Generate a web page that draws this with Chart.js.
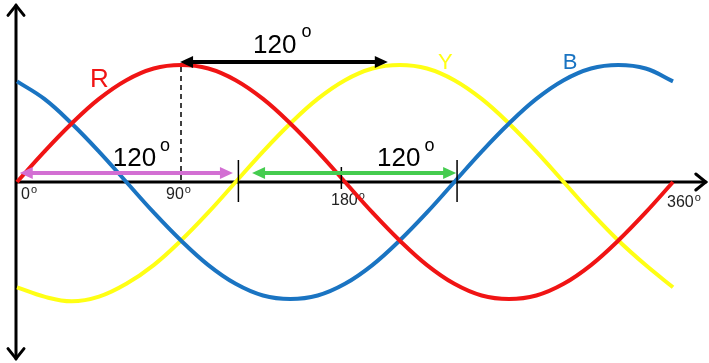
<!DOCTYPE html>
<html>
<head>
<meta charset="utf-8">
<script src="https://cdn.jsdelivr.net/npm/chart.js@4"></script>
<style>
  html, body { margin: 0; padding: 0; background: #fff; }
  #wrap { width: 709px; height: 363px; position: relative; }
</style>
</head>
<body>
<div id="wrap"><canvas id="phaseChart"></canvas></div>
<script>
// angle in degrees, one point every 15 deg
const degrees = [0, 15, 30, 45, 60, 75, 90, 105, 120, 135, 150, 165, 180, 195, 210, 225, 240, 255, 270, 285, 300, 315, 330, 345, 360];

// values (peak = 1)
const redPhase = [0, 0.26, 0.5, 0.71, 0.87, 0.97, 1, 0.97, 0.87, 0.71, 0.5, 0.26, 0, -0.26, -0.5, -0.71, -0.87, -0.97, -1, -0.97, -0.87, -0.71, -0.5, -0.26, 0];
const yellowPhase = [-0.9, -0.98, -1.02, -0.98, -0.87, -0.71, -0.5, -0.26, 0, 0.26, 0.5, 0.71, 0.87, 0.97, 1, 0.97, 0.87, 0.71, 0.5, 0.26, 0, -0.26, -0.5, -0.71, -0.9];
const bluePhase = [0.86, 0.71, 0.5, 0.26, 0, -0.26, -0.5, -0.71, -0.87, -0.97, -1, -0.97, -0.87, -0.71, -0.5, -0.26, 0, 0.26, 0.5, 0.71, 0.87, 0.97, 1, 0.97, 0.86];

const tickLabels = [
    { deg: 0, text: '0', dx: 4, dy: 17 },
    { deg: 90, text: '90', dx: -15, dy: 17 },
    { deg: 180, text: '180', dx: -14, dy: 23 },
    { deg: 360, text: '360', dx: -6, dy: 25 }
];

const RED = '#f01414';
const YELLOW = '#ffff14';
const BLUE = '#1a74c2';

function toPoints(vals) {
    return degrees.map((d, i) => ({ x: d, y: vals[i] }));
}

// degree text: number followed by a raised small "o"
function degText(ctx, text, x, y, size, oSize, rise, gap, color) {
    ctx.fillStyle = color || '#000';
    ctx.textAlign = 'left';
    ctx.textBaseline = 'alphabetic';
    ctx.font = size + 'px "Liberation Sans", Arial, sans-serif';
    ctx.fillText(text, x, y);
    const w = ctx.measureText(text).width;
    ctx.font = oSize + 'px "Liberation Sans", Arial, sans-serif';
    ctx.fillText('o', x + w + gap, y - rise);
}

function filledArrow(ctx, x1, x2, y, color) {
    const head = 13, half = 6;
    ctx.strokeStyle = color;
    ctx.fillStyle = color;
    ctx.lineWidth = 4;
    ctx.beginPath();
    ctx.moveTo(x1 + head - 2, y);
    ctx.lineTo(x2 - head + 2, y);
    ctx.stroke();
    ctx.beginPath();
    ctx.moveTo(x1, y); ctx.lineTo(x1 + head, y - half); ctx.lineTo(x1 + head, y + half); ctx.closePath();
    ctx.fill();
    ctx.beginPath();
    ctx.moveTo(x2, y); ctx.lineTo(x2 - head, y - half); ctx.lineTo(x2 - head, y + half); ctx.closePath();
    ctx.fill();
}

const axesPlugin = {
    id: 'phaseAxes',
    beforeDatasetsDraw(chart) {
        const ctx = chart.ctx;
        const xs = chart.scales.x, ys = chart.scales.y;
        const x0 = xs.getPixelForValue(0) - 1;
        const y0 = ys.getPixelForValue(0);
        const top = ys.getPixelForValue(1.51);
        const bottom = ys.getPixelForValue(-1.51);
        const right = xs.getPixelForValue(378);
        ctx.save();
        ctx.strokeStyle = '#000';
        ctx.lineWidth = 3;
        ctx.lineCap = 'round';
        ctx.lineJoin = 'miter';
        ctx.beginPath();
        ctx.moveTo(x0, top); ctx.lineTo(x0, bottom);
        ctx.moveTo(x0, y0); ctx.lineTo(right, y0);
        ctx.stroke();
        // chevron heads
        ctx.beginPath();
        ctx.moveTo(x0 - 8, top + 10); ctx.lineTo(x0, top); ctx.lineTo(x0 + 8, top + 10);
        ctx.moveTo(x0 - 8, bottom - 10); ctx.lineTo(x0, bottom); ctx.lineTo(x0 + 8, bottom - 10);
        ctx.moveTo(right - 10, y0 - 8); ctx.lineTo(right, y0); ctx.lineTo(right - 10, y0 + 8);
        ctx.stroke();

        // tick labels
        tickLabels.forEach(t => {
            degText(ctx, t.text, xs.getPixelForValue(t.deg) + t.dx, y0 + t.dy, 16, 11, 6, 1, '#222');
        });
        ctx.restore();
    },
    afterDatasetsDraw(chart) {
        const ctx = chart.ctx;
        const xs = chart.scales.x, ys = chart.scales.y;
        const px = d => xs.getPixelForValue(d);
        const py = v => ys.getPixelForValue(v);
        const y0 = py(0);
        ctx.save();

        // dashed drop line at the red peak
        ctx.strokeStyle = '#000';
        ctx.lineWidth = 1.5;
        ctx.setLineDash([5, 4]);
        ctx.beginPath();
        ctx.moveTo(px(90), py(1) + 2);
        ctx.lineTo(px(90), y0);
        ctx.stroke();
        ctx.setLineDash([]);

        // vertical markers at 120 and 240, small one at 180
        ctx.lineWidth = 1.5;
        ctx.beginPath();
        ctx.moveTo(px(121.5), y0 - 22); ctx.lineTo(px(121.5), y0 + 20);
        ctx.moveTo(px(241.5), y0 - 22); ctx.lineTo(px(241.5), y0 + 20);
        ctx.moveTo(px(178), y0 - 15); ctx.lineTo(px(178), y0 + 7);
        ctx.stroke();

        // spacing arrows
        filledArrow(ctx, px(89.5), px(203.5), py(1.026), '#000');
        filledArrow(ctx, px(1.5), px(118.5), py(0.077), '#d36fd3');
        filledArrow(ctx, px(129), px(241), py(0.077), '#45cc4f');

        // 120 deg labels
        degText(ctx, '120', px(89.5) + 73, py(1.026) - 9, 26, 18, 16, 5, '#000');
        degText(ctx, '120', px(1.5) + 93, py(0.077) - 7, 26, 18, 15, 4, '#000');
        degText(ctx, '120', px(129) + 125, py(0.077) - 7, 26, 18, 15, 4, '#000');

        // phase names
        ctx.textAlign = 'left';
        ctx.textBaseline = 'alphabetic';
        ctx.font = '26px "Liberation Sans", Arial, sans-serif';
        ctx.fillStyle = RED;
        ctx.fillText('R', px(40), py(0.81));
        ctx.font = '22px "Liberation Sans", Arial, sans-serif';
        ctx.fillStyle = YELLOW;
        ctx.fillText('Y', px(231), py(0.97));
        ctx.fillStyle = BLUE;
        ctx.fillText('B', px(299.5), py(0.97));
        ctx.restore();
    }
};

const ctx = document.getElementById('phaseChart').getContext('2d');
new Chart(ctx, {
    type: 'line',
    data: {
        datasets: [
            { label: 'R', data: toPoints(redPhase), borderColor: RED, order: 1 },
            { label: 'B', data: toPoints(bluePhase), borderColor: BLUE, order: 2 },
            { label: 'Y', data: toPoints(yellowPhase), borderColor: YELLOW, order: 3 }
        ]
    },
    options: {
        responsive: true,
        maintainAspectRatio: false,
        animation: false,
        layout: { padding: { left: 17, right: 36, top: 6.5, bottom: 5.5 } },
        elements: {
            line: { borderWidth: 4, tension: 0.4, fill: false, borderCapStyle: 'butt' },
            point: { radius: 0, hoverRadius: 0 }
        },
        datasets: { line: { clip: false } },
        plugins: { legend: { display: false }, tooltip: { enabled: false } },
        scales: {
            x: { type: 'linear', min: 0, max: 360, display: false },
            y: { min: -1.5, max: 1.5, display: false }
        }
    },
    plugins: [axesPlugin]
});
</script>
</body>
</html>
